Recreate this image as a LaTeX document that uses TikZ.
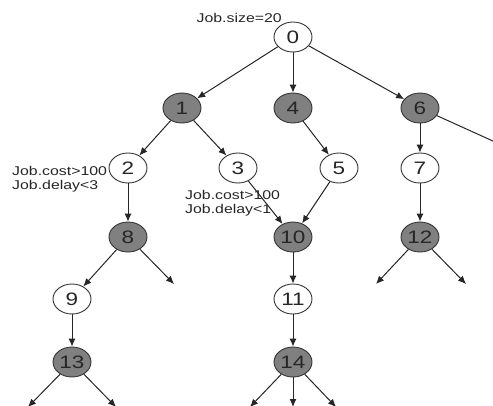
\documentclass[tikz,border=0pt]{standalone}
\usepackage{fontspec}
\setmainfont[FakeStretch=1.25]{Liberation Sans}
\usetikzlibrary{arrows.meta,shapes.geometric}
\begin{document}
\begin{tikzpicture}[x=1pt,y=-1pt,
  nd/.style={ellipse,draw=black!80,line width=0.9pt,minimum width=38pt,minimum height=30pt,inner sep=0pt,font=\fontsize{18}{18}\selectfont,text=black!85},
  wn/.style={nd,fill=white},
  gn/.style={nd,fill=black!50},
  lbl/.style={font=\fontsize{12.7}{14}\selectfont,align=left,inner sep=0pt,text=black!85},
  ar/.style={-{Latex[length=8pt,width=7pt]},line width=1pt,draw=black!85},
  ln/.style={line width=1pt,draw=black!85}]
\useasboundingbox (0,0) rectangle (493,405);
\node[wn] (n0) at (293,37) {0};
\node[gn] (n1) at (182,108) {1};
\node[gn] (n4) at (293,108) {4};
\node[gn] (n6) at (420,108) {6};
\node[wn] (n2) at (128,168) {2};
\node[wn] (n3) at (238,168) {3};
\node[wn] (n5) at (339,168) {5};
\node[wn] (n7) at (420,168) {7};
\node[gn] (n8) at (128,237) {8};
\node[gn] (n10) at (293,237) {10};
\node[gn] (n12) at (420,237) {12};
\node[wn] (n9) at (72,299) {9};
\node[wn] (n11) at (293,299) {11};
\node[gn] (n13) at (72,362) {13};
\node[gn] (n14) at (293,362) {14};
\coordinate (r6) at (515,151);
\coordinate (f8) at (174,284);
\coordinate (f12a) at (376,284);
\coordinate (f12b) at (466,284);
\coordinate (f13a) at (28,407);
\coordinate (f13b) at (116,407);
\coordinate (f14a) at (250,407);
\coordinate (f14b) at (293,407);
\coordinate (f14c) at (336,407);
\node[lbl,anchor=south east] (ls) at (282,23) {Job.size=20};
\node[lbl,anchor=west] (l2) at (12,179) {Job.cost>100\\Job.delay<3};
\node[lbl,anchor=west] (l3) at (185,203) {Job.cost>100\\Job.delay<1};
\draw[ar] (n0) -- (n1);
\draw[ar] (n0) -- (n4);
\draw[ar] (n0) -- (n6);
\draw[ar] (n1) -- (n2);
\draw[ar] (n1) -- (n3);
\draw[ar] (n4) -- (n5);
\draw[ar] (n6) -- (n7);
\draw[ln] (n6) -- (r6);
\draw[ar] (n2) -- (n8);
\draw[ar] (n3) -- (n10);
\draw[ar] (n5) -- (n10);
\draw[ar] (n7) -- (n12);
\draw[ar] (n8) -- (n9);
\draw[ar] (n8) -- (f8);
\draw[ar] (n12) -- (f12a);
\draw[ar] (n12) -- (f12b);
\draw[ar] (n9) -- (n13);
\draw[ar] (n10) -- (n11);
\draw[ar] (n11) -- (n14);
\draw[ar] (n13) -- (f13a);
\draw[ar] (n13) -- (f13b);
\draw[ar] (n14) -- (f14a);
\draw[ar] (n14) -- (f14b);
\draw[ar] (n14) -- (f14c);
\end{tikzpicture}
\end{document}
